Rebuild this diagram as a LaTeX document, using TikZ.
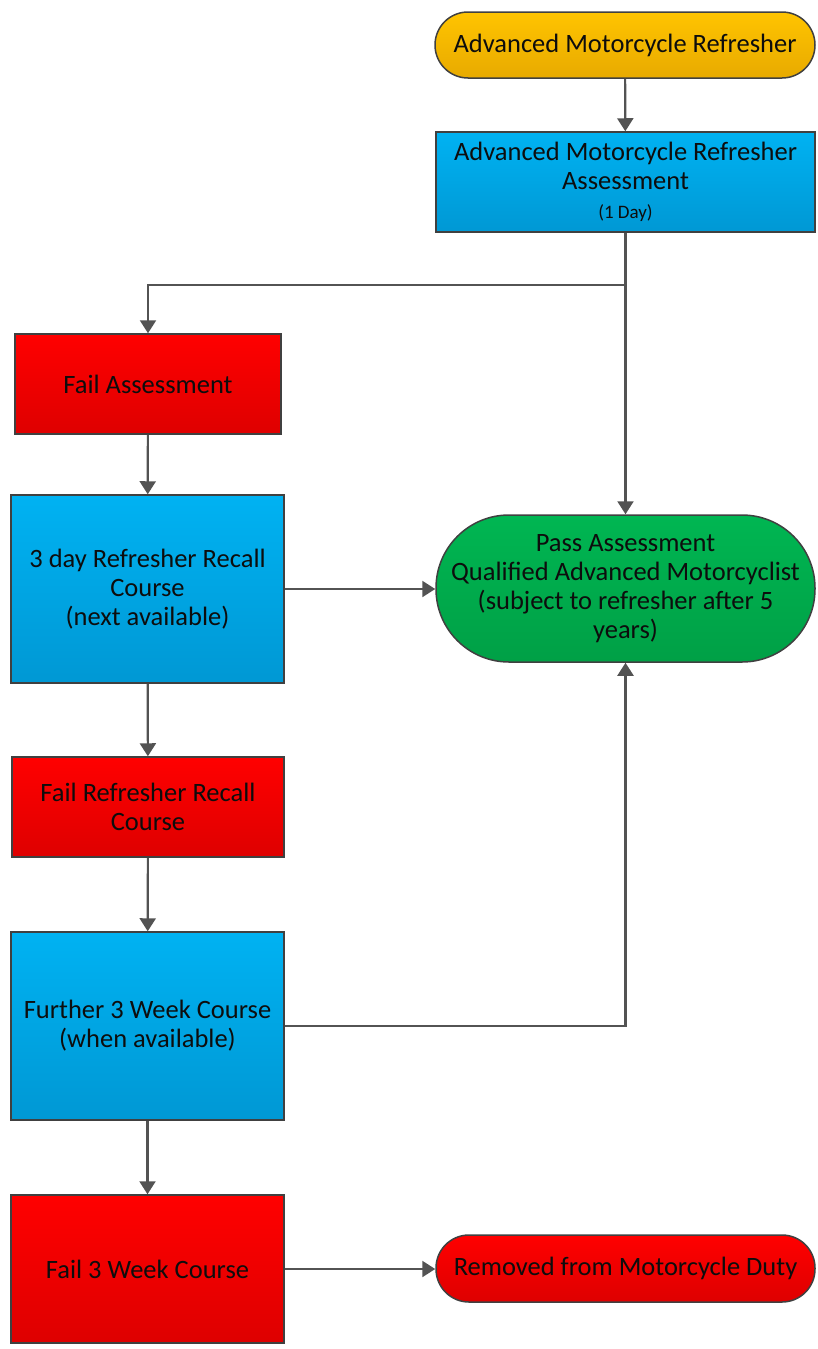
\documentclass[tikz,border=0pt]{standalone}
\usepackage{fontspec}
\setmainfont{Carlito}
\usetikzlibrary{arrows.meta}
\definecolor{blueTop}{HTML}{00B2F2}
\definecolor{blueBot}{HTML}{0098D4}
\definecolor{redTop}{HTML}{FF0000}
\definecolor{redBot}{HTML}{DE0000}
\definecolor{goldTop}{HTML}{FFC400}
\definecolor{goldBot}{HTML}{E8AA00}
\definecolor{greenTop}{HTML}{00B652}
\definecolor{greenBot}{HTML}{00A046}
\definecolor{edge}{HTML}{404040}

\begin{document}
\begin{tikzpicture}[x=1pt,y=-1pt,
    box/.style={draw=edge,line width=1.5pt,align=center,text=black!95,
        font=\fontsize{26.5}{29}\selectfont,inner sep=2pt},
    bluebox/.style={box,top color=blueTop,bottom color=blueBot},
    redbox/.style={box,top color=redTop,bottom color=redBot},
    pill/.style={box,rounded corners=#1},
    line/.style={draw=edge!90,line width=2.2pt},
    flow/.style={line,-{Triangle[width=16pt,length=13pt]}}]
    \useasboundingbox (0,0) rectangle (817,1349);
    % right column
    \node[pill=33,top color=goldTop,bottom color=goldBot,
          minimum width=380,minimum height=66] (start) at (625,45)
          {Advanced Motorcycle Refresher};
    \node[bluebox,minimum width=379,minimum height=100] (assess) at (625.5,182)
          {Advanced Motorcycle Refresher\\Assessment\\
           {\fontsize{19}{21}\selectfont(1 Day)}};
    \node[pill=73,top color=greenTop,bottom color=greenBot,
          minimum width=379,minimum height=147] (pass) at (625.5,588.5)
          {Pass Assessment\\Qualified Advanced Motorcyclist\\
           (subject to refresher after 5\\years)};
    \node[pill=33,top color=redTop,bottom color=redBot,
          minimum width=379,minimum height=67] (removed) at (625.5,1268.5)
          {Removed from Motorcycle Duty};
    % left column
    \node[redbox,minimum width=266,minimum height=100] (failA) at (148,384)
          {Fail Assessment};
    \node[bluebox,minimum width=273,minimum height=188] (recall) at (147.5,589)
          {3 day Refresher Recall\\Course\\(next available)};
    \node[redbox,minimum width=272,minimum height=100] (failR) at (148,807)
          {Fail Refresher Recall\\Course};
    \node[bluebox,minimum width=273,minimum height=188] (further) at (147.5,1026)
          {Further 3 Week Course\\(when available)};
    \node[redbox,minimum width=273,minimum height=148] (failW) at (147.5,1269)
          {Fail 3 Week Course};
    \coordinate (split) at (625.5,285);
    % connectors
    \draw[flow] (start) -- (assess);
    \draw[line] (assess) -- (split);
    \draw[flow] (split) -| (failA.north);
    \draw[flow] (split) -- (pass);
    \draw[flow] (failA) -- (recall);
    \draw[flow] (recall.east) -- (recall.east -| pass.west);
    \draw[flow] (recall) -- (failR);
    \draw[flow] (failR) -- (further);
    \draw[flow] (further.east) -| (pass.south);
    \draw[flow] (further) -- (failW);
    \draw[flow] (failW.east) -- (failW.east -| removed.west);
\end{tikzpicture}
\end{document}
